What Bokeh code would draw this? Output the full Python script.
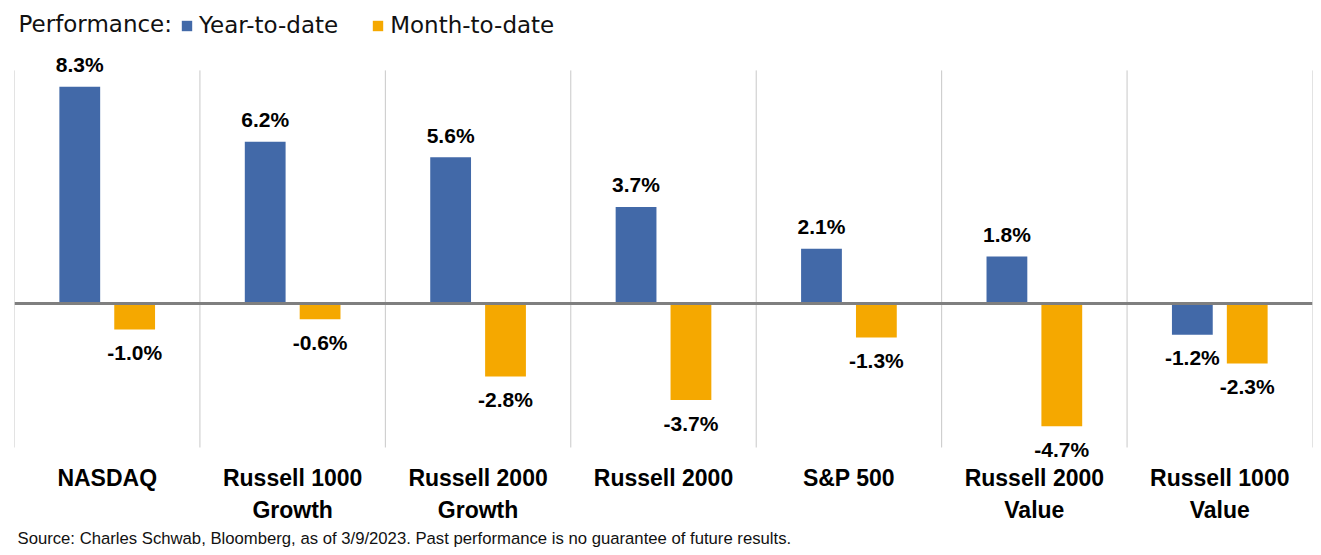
from bokeh.plotting import figure
from bokeh.models import (ColumnDataSource, FactorRange, Range1d, Span, LabelSet,
                          Label, Legend, LegendItem)
from bokeh.transform import dodge
from bokeh.core.properties import value
from bokeh.embed import file_html
from bokeh.resources import INLINE

# ---- data ----
categories = ["NASDAQ", "Russell 1000\nGrowth", "Russell 2000\nGrowth", "Russell 2000",
              "S&P 500", "Russell 2000\nValue", "Russell 1000\nValue"]
ytd = [8.3, 6.2, 5.6, 3.7, 2.1, 1.8, -1.2]
mtd = [-1.0, -0.6, -2.8, -3.7, -1.3, -4.7, -2.3]
series_names = ["Year-to-date", "Month-to-date"]
legend_title = "Performance:"
source_note = "Source: Charles Schwab, Bloomberg, as of 3/9/2023.  Past performance is no guarantee of future results."

# ---- style / layout ----
BLUE = "#4269A8"
GOLD = "#F5A800"
FONT = "Liberation Sans"
LEG_FONT = "DejaVu Sans"
W, H = 1313, 547
Y0, Y1 = -9.349, 11.609          # frame covers the whole canvas height
SEP_BOTTOM, SEP_TOP = -5.517, 8.93
CAT_Y1 = -6.17
CAT_Y2 = -7.40
NOTE_Y = -8.99
TITLE_Y = 10.7

lines = [c.split("\n") for c in categories]
src = ColumnDataSource(dict(
    cat=categories,
    line1=[l[0] for l in lines],
    line2=[l[1] if len(l) > 1 else "" for l in lines],
    ytd=ytd,
    mtd=mtd,
    ytd_lbl=[f"{v:.1f}%" for v in ytd],
    mtd_lbl=[f"{v:.1f}%" for v in mtd],
    ytd_off=[22 if v >= 0 else -23 for v in ytd],
    mtd_off=[22 if v >= 0 else -23 for v in mtd],
))

p = figure(width=W, height=H, output_backend="svg", toolbar_location=None,
           x_range=FactorRange(*categories, range_padding=0),
           y_range=Range1d(Y0, Y1),
           min_border_left=14, min_border_right=1, min_border_top=0, min_border_bottom=0)
p.outline_line_color = None
p.xgrid.grid_line_color = None
p.ygrid.grid_line_color = None
p.xaxis.visible = False
p.yaxis.visible = False
p.background_fill_color = "white"
p.border_fill_color = "white"

# separators between categories
bounds = list(range(len(categories) + 1))
p.segment(x0=bounds, y0=[SEP_BOTTOM] * len(bounds), x1=bounds, y1=[SEP_TOP] * len(bounds),
          line_color="#C8C8C8", line_width=1)

OFF = 0.148
BW = 0.22
r1 = p.vbar(x=dodge("cat", -OFF, range=p.x_range), top="ytd", bottom=0, width=BW,
            source=src, fill_color=BLUE, line_color=None)
r2 = p.vbar(x=dodge("cat", OFF, range=p.x_range), top="mtd", bottom=0, width=BW,
            source=src, fill_color=GOLD, line_color=None)

p.add_layout(Span(location=0, dimension="width", line_color="#7F7F7F", line_width=3))

for key, off in (("ytd", -OFF), ("mtd", OFF)):
    p.add_layout(LabelSet(x=dodge("cat", off, range=p.x_range), y=key, text=f"{key}_lbl",
                          y_offset=f"{key}_off", source=src,
                          text_align="center", text_baseline="middle",
                          text_font=value(FONT), text_font_style="bold",
                          text_font_size="21px", text_color="#000000"))

# category names (two centred lines)
for field, yy in (("line1", CAT_Y1), ("line2", CAT_Y2)):
    p.add_layout(LabelSet(x="cat", y=yy, text=field, source=src,
                          text_align="center", text_baseline="top",
                          text_font=value(FONT), text_font_style="bold",
                          text_font_size="23px", text_color="#000000"))

# legend
p.add_layout(Label(x=0, y=TITLE_Y, x_offset=4, text=legend_title, text_baseline="middle",
                   text_font=LEG_FONT, text_font_size="23px", text_color="#111111"))
legend = Legend(items=[LegendItem(label=series_names[0], renderers=[r1]),
                       LegendItem(label=series_names[1], renderers=[r2])],
                orientation="horizontal", location=(166, 509),
                padding=0, margin=0, spacing=33, label_standoff=6,
                glyph_width=13, glyph_height=13, label_height=26,
                label_text_font=LEG_FONT, label_text_font_size="23px",
                label_text_color="#111111",
                border_line_color=None, background_fill_alpha=0)
p.add_layout(legend)

# source note
p.add_layout(Label(x=0, y=NOTE_Y, x_offset=3, text=source_note, text_baseline="middle",
                   text_font=FONT, text_font_size="16.7px", text_color="#111111"))

open("out.html", "w").write(file_html(p, INLINE))
